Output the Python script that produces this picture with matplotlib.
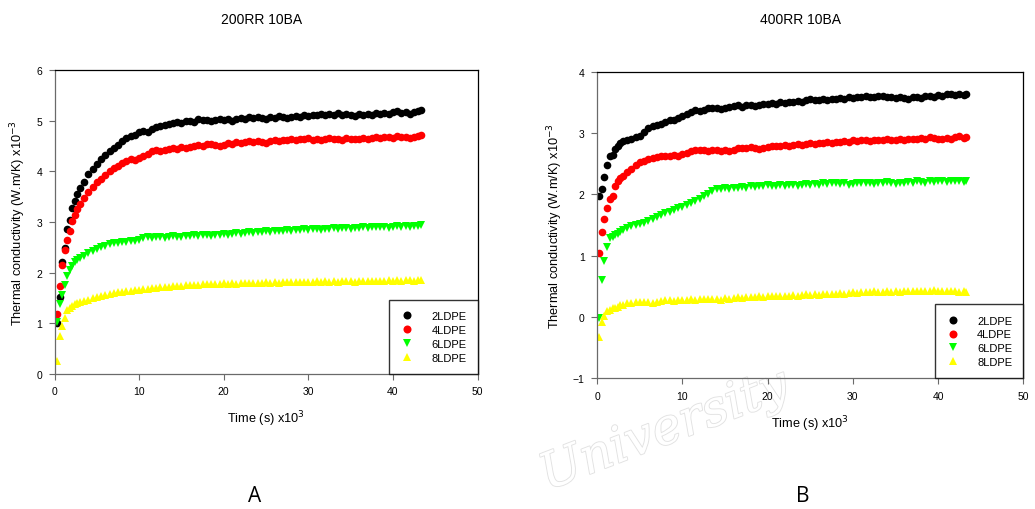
import matplotlib
matplotlib.use("Agg")
import matplotlib.pyplot as plt
import matplotlib.patheffects as pe

plt.rcParams['font.family'] = ['Liberation Sans', 'DejaVu Sans']

# ---------------- data ----------------
time_late = [3.5, 4.0, 4.5, 5.0, 5.5, 6.0, 6.5, 7.0, 7.5, 8.0,
             8.5, 9.0, 9.5, 10.0, 10.5, 11.0, 11.5, 12.0, 12.5, 13.0,
             13.5, 14.0, 14.5, 15.0, 15.5, 16.0, 16.5, 17.0, 17.5, 18.0,
             18.5, 19.0, 19.5, 20.0, 20.5, 21.0, 21.5, 22.0, 22.5, 23.0,
             23.5, 24.0, 24.5, 25.0, 25.5, 26.0, 26.5, 27.0, 27.5, 28.0,
             28.5, 29.0, 29.5, 30.0, 30.5, 31.0, 31.5, 32.0, 32.5, 33.0,
             33.5, 34.0, 34.5, 35.0, 35.5, 36.0, 36.5, 37.0, 37.5, 38.0,
             38.5, 39.0, 39.5, 40.0, 40.5, 41.0, 41.5, 42.0, 42.5, 43.0, 43.3]
time_a = [0.3, 0.6, 0.9, 1.2, 1.5, 1.8, 2.1, 2.4, 2.7, 3.0] + time_late
time_b = [0.23, 0.55, 0.82, 1.13, 1.45, 1.8, 2.1, 2.4, 2.7, 3.0] + time_late

series_names = ['2LDPE', '4LDPE', '6LDPE', '8LDPE']

a_2ldpe = [1.00, 1.51, 2.20, 2.49, 2.86, 3.03, 3.27, 3.42, 3.56, 3.68,
           3.80, 3.95, 4.05, 4.15, 4.25, 4.32, 4.40, 4.46, 4.53, 4.60,
           4.66, 4.71, 4.73, 4.78, 4.80, 4.78, 4.84, 4.87, 4.89, 4.91,
           4.93, 4.96, 4.97, 4.96, 4.99, 5.00, 4.98, 5.03, 5.01, 5.02,
           4.99, 5.02, 5.04, 5.01, 5.03, 5.00, 5.03, 5.05, 5.04, 5.07,
           5.06, 5.08, 5.05, 5.04, 5.08, 5.06, 5.09, 5.07, 5.05, 5.08,
           5.10, 5.08, 5.11, 5.10, 5.12, 5.11, 5.13, 5.11, 5.14, 5.12,
           5.15, 5.11, 5.13, 5.12, 5.10, 5.13, 5.12, 5.14, 5.11, 5.15,
           5.13, 5.16, 5.14, 5.17, 5.19, 5.15, 5.17, 5.14, 5.18, 5.19, 5.21]
a_4ldpe = [1.19, 1.74, 2.15, 2.44, 2.64, 2.82, 3.01, 3.14, 3.25, 3.35,
           3.48, 3.60, 3.70, 3.80, 3.86, 3.93, 4.00, 4.06, 4.11, 4.16,
           4.21, 4.24, 4.23, 4.27, 4.31, 4.35, 4.40, 4.42, 4.41, 4.43,
           4.44, 4.46, 4.45, 4.48, 4.47, 4.49, 4.50, 4.52, 4.51, 4.55,
           4.54, 4.53, 4.51, 4.53, 4.56, 4.55, 4.58, 4.57, 4.59, 4.60,
           4.58, 4.61, 4.59, 4.57, 4.60, 4.62, 4.61, 4.63, 4.62, 4.64,
           4.63, 4.65, 4.64, 4.66, 4.63, 4.65, 4.62, 4.64, 4.66, 4.64,
           4.65, 4.63, 4.66, 4.64, 4.65, 4.64, 4.66, 4.65, 4.67, 4.68,
           4.66, 4.68, 4.69, 4.67, 4.70, 4.68, 4.69, 4.66, 4.68, 4.70, 4.72]
a_6ldpe = [1.02, 1.38, 1.56, 1.75, 1.94, 2.05, 2.12, 2.20, 2.25, 2.28,
           2.33, 2.38, 2.42, 2.46, 2.50, 2.53, 2.56, 2.58, 2.59, 2.60,
           2.61, 2.62, 2.63, 2.65, 2.68, 2.70, 2.69, 2.71, 2.70, 2.69,
           2.71, 2.72, 2.70, 2.71, 2.73, 2.72, 2.74, 2.73, 2.75, 2.74,
           2.73, 2.75, 2.74, 2.76, 2.75, 2.77, 2.78, 2.77, 2.79, 2.80,
           2.79, 2.81, 2.80, 2.82, 2.81, 2.82, 2.83, 2.82, 2.84, 2.83,
           2.85, 2.84, 2.86, 2.85, 2.86, 2.87, 2.85, 2.87, 2.86, 2.88,
           2.87, 2.88, 2.89, 2.87, 2.89, 2.88, 2.90, 2.89, 2.91, 2.90,
           2.90, 2.91, 2.89, 2.91, 2.92, 2.90, 2.92, 2.91, 2.93, 2.92, 2.94]
a_8ldpe = [0.26, 0.74, 0.94, 1.11, 1.25, 1.30, 1.34, 1.37, 1.39, 1.41,
           1.44, 1.46, 1.49, 1.51, 1.53, 1.55, 1.57, 1.59, 1.61, 1.62,
           1.63, 1.64, 1.65, 1.66, 1.67, 1.68, 1.69, 1.70, 1.71, 1.72,
           1.72, 1.73, 1.74, 1.74, 1.75, 1.76, 1.75, 1.76, 1.77, 1.77,
           1.78, 1.77, 1.78, 1.79, 1.78, 1.79, 1.78, 1.80, 1.79, 1.80,
           1.80, 1.79, 1.80, 1.81, 1.80, 1.81, 1.80, 1.82, 1.81, 1.81,
           1.82, 1.81, 1.82, 1.82, 1.81, 1.83, 1.82, 1.83, 1.82, 1.83,
           1.82, 1.83, 1.84, 1.83, 1.82, 1.84, 1.83, 1.84, 1.83, 1.84,
           1.84, 1.83, 1.85, 1.84, 1.85, 1.84, 1.86, 1.85, 1.84, 1.85, 1.85]

b_2ldpe = [1.97, 2.08, 2.29, 2.47, 2.63, 2.64, 2.74, 2.78, 2.83, 2.87,
           2.89, 2.91, 2.93, 2.95, 3.02, 3.08, 3.12, 3.13, 3.15, 3.18,
           3.21, 3.22, 3.25, 3.28, 3.31, 3.34, 3.37, 3.36, 3.38, 3.40,
           3.41, 3.40, 3.39, 3.41, 3.42, 3.44, 3.45, 3.43, 3.45, 3.46,
           3.44, 3.46, 3.48, 3.47, 3.49, 3.48, 3.50, 3.49, 3.51, 3.50,
           3.52, 3.50, 3.53, 3.55, 3.53, 3.54, 3.55, 3.53, 3.56, 3.55,
           3.57, 3.56, 3.58, 3.57, 3.59, 3.58, 3.60, 3.59, 3.58, 3.60,
           3.61, 3.59, 3.58, 3.57, 3.59, 3.57, 3.56, 3.58, 3.59, 3.57,
           3.60, 3.61, 3.59, 3.62, 3.61, 3.63, 3.64, 3.62, 3.63, 3.62, 3.63]
b_4ldpe = [1.04, 1.39, 1.60, 1.77, 1.93, 1.97, 2.14, 2.22, 2.27, 2.30,
           2.36, 2.42, 2.48, 2.52, 2.55, 2.58, 2.60, 2.61, 2.62, 2.62,
           2.63, 2.64, 2.63, 2.66, 2.68, 2.71, 2.72, 2.73, 2.72, 2.71,
           2.73, 2.72, 2.70, 2.72, 2.71, 2.73, 2.75, 2.76, 2.75, 2.77,
           2.76, 2.74, 2.76, 2.77, 2.78, 2.79, 2.78, 2.80, 2.79, 2.81,
           2.82, 2.80, 2.82, 2.83, 2.82, 2.84, 2.83, 2.85, 2.84, 2.86,
           2.85, 2.87, 2.86, 2.88, 2.87, 2.88, 2.89, 2.87, 2.88, 2.89,
           2.88, 2.90, 2.89, 2.88, 2.90, 2.89, 2.91, 2.90, 2.91, 2.92,
           2.91, 2.93, 2.92, 2.91, 2.90, 2.92, 2.91, 2.93, 2.95, 2.92, 2.93]
b_6ldpe = [-0.01, 0.61, 0.92, 1.14, 1.28, 1.30, 1.33, 1.36, 1.39, 1.42,
           1.45, 1.48, 1.50, 1.51, 1.53, 1.56, 1.60, 1.63, 1.67, 1.69,
           1.71, 1.74, 1.77, 1.80, 1.83, 1.86, 1.89, 1.93, 1.97, 2.01,
           2.05, 2.08, 2.09, 2.10, 2.09, 2.11, 2.10, 2.12, 2.11, 2.13,
           2.12, 2.14, 2.13, 2.15, 2.14, 2.13, 2.15, 2.14, 2.16, 2.15,
           2.14, 2.16, 2.17, 2.15, 2.17, 2.16, 2.18, 2.17, 2.19, 2.18,
           2.17, 2.18, 2.16, 2.17, 2.18, 2.19, 2.18, 2.19, 2.17, 2.19,
           2.18, 2.20, 2.19, 2.17, 2.18, 2.19, 2.20, 2.19, 2.21, 2.20,
           2.19, 2.21, 2.20, 2.21, 2.22, 2.20, 2.21, 2.22, 2.21, 2.20, 2.21]
b_8ldpe = [-0.33, -0.09, 0.02, 0.10, 0.12, 0.14, 0.15, 0.17, 0.19, 0.20,
           0.22, 0.23, 0.24, 0.24, 0.25, 0.24, 0.23, 0.24, 0.26, 0.27,
           0.27, 0.26, 0.28, 0.27, 0.28, 0.29, 0.28, 0.29, 0.30, 0.29,
           0.30, 0.29, 0.27, 0.31, 0.30, 0.31, 0.32, 0.31, 0.32, 0.33,
           0.33, 0.34, 0.33, 0.34, 0.35, 0.34, 0.35, 0.34, 0.35, 0.36,
           0.35, 0.36, 0.37, 0.36, 0.37, 0.36, 0.38, 0.37, 0.38, 0.38,
           0.39, 0.38, 0.39, 0.40, 0.39, 0.41, 0.40, 0.41, 0.42, 0.41,
           0.41, 0.42, 0.41, 0.42, 0.41, 0.42, 0.43, 0.42, 0.42, 0.43,
           0.42, 0.43, 0.44, 0.43, 0.42, 0.43, 0.42, 0.43, 0.41, 0.42, 0.41]

x_ticks = [0, 10, 20, 30, 40, 50]
y_ticks_a = [0, 1, 2, 3, 4, 5, 6]
y_ticks_b = [-1, 0, 1, 2, 3, 4]

# ---------------- styles ----------------
colors = ['#000000', '#ff0000', '#00ff00', '#ffff00']
markers = ['o', 'o', 'v', '^']
axis_gray = '#6a6a6a'

fig = plt.figure(figsize=(10.35, 5.10), dpi=100)
fig.patch.set_facecolor('white')

# faint watermark (behind everything)
fig.text(665 / 1035, 1 - 432 / 510, 'University', ha='center', va='center',
         fontsize=36, rotation=21, style='italic', color='white', zorder=-5,
         family=['DejaVu Serif', 'DejaVu Sans'],
         path_effects=[pe.Stroke(linewidth=1.3, foreground='#e2e2e2'), pe.Normal()])

ax_a = fig.add_axes([0.0527, 0.2653, 0.4087, 0.5949])
ax_b = fig.add_axes([0.5771, 0.2563, 0.4116, 0.6012])
for ax in (ax_a, ax_b):
    ax.patch.set_alpha(0)


def draw(ax, t, ys, yticks):
    for y, c, m, n in zip(ys, colors, markers, series_names):
        ax.plot(t, y, linestyle='none', marker=m, color=c, markersize=5.5,
                markeredgewidth=0, label=n)
    ax.set_xlim(0, 50)
    ax.set_ylim(yticks[0], yticks[-1])
    ax.set_xticks(x_ticks)
    ax.set_yticks(yticks)
    ax.tick_params(direction='out', length=4, width=0.8, labelsize=7.5,
                   top=False, right=False, pad=5, color=axis_gray)
    for s in ax.spines.values():
        s.set_linewidth(0.9)
    ax.spines['left'].set_color(axis_gray)
    ax.spines['bottom'].set_color(axis_gray)
    ax.set_ylabel('Thermal conductivity (W.m/K) x10$^{-3}$', fontsize=9.2, labelpad=6)
    leg = ax.legend(loc='lower right', borderaxespad=0, fontsize=8,
                    frameon=True, fancybox=False, edgecolor='black',
                    handletextpad=1.6, borderpad=1.0, labelspacing=0.35,
                    handlelength=1.2, markerscale=1.05)
    leg.get_frame().set_linewidth(1.0)


draw(ax_a, time_a, [a_2ldpe, a_4ldpe, a_6ldpe, a_8ldpe], y_ticks_a)
draw(ax_b, time_b, [b_2ldpe, b_4ldpe, b_6ldpe, b_8ldpe], y_ticks_b)

ax_a.set_xlabel('Time (s) x10$^3$', fontsize=9.2, labelpad=9)
ax_b.set_xlabel('Time (s) x10$^3$', fontsize=9.2, labelpad=9)

fig.text(262 / 1035, 1 - 20 / 510, '200RR 10BA', ha='center', va='center', fontsize=10)
fig.text(800 / 1035, 1 - 20 / 510, '400RR 10BA', ha='center', va='center', fontsize=10)
fig.text(255 / 1035, 1 - 497 / 510, 'A', ha='center', va='center', fontsize=15,
         family=['Open Sans', 'DejaVu Sans'])
fig.text(803 / 1035, 1 - 497 / 510, 'B', ha='center', va='center', fontsize=15,
         family=['Open Sans', 'DejaVu Sans'])

fig.savefig('out.png', dpi=100)
